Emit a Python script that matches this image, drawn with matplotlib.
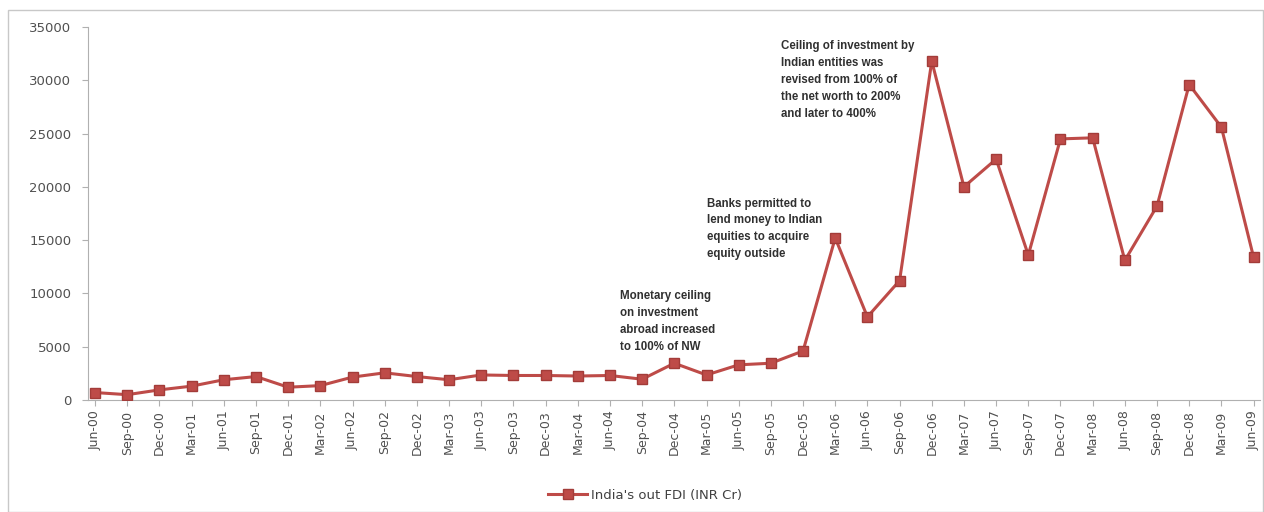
import matplotlib
matplotlib.use("Agg")
import matplotlib.pyplot as plt
from matplotlib.patches import Rectangle

categories = ["Jun-00", "Sep-00", "Dec-00", "Mar-01", "Jun-01", "Sep-01", "Dec-01", "Mar-02",
              "Jun-02", "Sep-02", "Dec-02", "Mar-03", "Jun-03", "Sep-03", "Dec-03", "Mar-04",
              "Jun-04", "Sep-04", "Dec-04", "Mar-05", "Jun-05", "Sep-05", "Dec-05", "Mar-06",
              "Jun-06", "Sep-06", "Dec-06", "Mar-07", "Jun-07", "Sep-07", "Dec-07", "Mar-08",
              "Jun-08", "Sep-08", "Dec-08", "Mar-09", "Jun-09"]
fdi_values = [700, 500, 950, 1300, 1900, 2200, 1200, 1350,
              2150, 2550, 2200, 1900, 2350, 2300, 2300, 2250,
              2300, 1950, 3450, 2350, 3300, 3450, 4600, 15200,
              7800, 11200, 31800, 20000, 22600, 13600, 24500, 24600,
              13100, 18200, 29600, 25600, 13400]
yticks = [0, 5000, 10000, 15000, 20000, 25000, 30000, 35000]
series_name = "India's out FDI (INR Cr)"
notes = [
    (16.3, 10300, "Monetary ceiling\non investment\nabroad increased\nto 100% of NW"),
    (19.0, 19000, "Banks permitted to\nlend money to Indian\nequities to acquire\nequity outside"),
    (21.3, 33800, "Ceiling of investment by\nIndian entities was\nrevised from 100% of\nthe net worth to 200%\nand later to 400%"),
]

fig = plt.figure(figsize=(12.64, 5.12), dpi=100)
fig.patches.append(Rectangle((8/1264, 0), 1 - 8/1264 - 0.001, 1 - 10/512,
                             transform=fig.transFigure, fill=False,
                             edgecolor="#c8c8c8", linewidth=1))
ax = fig.add_axes([88/1264, 1 - 400/512, (1260 - 88)/1264, (400 - 27)/512])

x = list(range(len(categories)))
line, = ax.plot(x, fdi_values, color="#BE4B48", linewidth=2.2, marker="s",
                markersize=7.5, markerfacecolor="#BE4B48", markeredgecolor="#a33c39",
                label=series_name, zorder=3)

ax.set_xlim(-0.22, 36.2)
ax.set_ylim(0, 35000)
ax.set_yticks(yticks)
ax.set_yticklabels([str(v) for v in yticks], fontsize=9.5, color="#404040")
ax.set_xticks(x)
ax.set_xticklabels(categories, rotation=90, fontsize=9, color="#404040")

for s in ["top", "right"]:
    ax.spines[s].set_visible(False)
ax.spines["left"].set_color("#b0b0b0")
ax.spines["bottom"].set_color("#b0b0b0")
ax.tick_params(axis="both", colors="#b0b0b0", length=4, labelcolor="#505050")
ax.tick_params(axis="y", pad=8)

for nx, ny, txt in notes:
    ax.text(nx, ny, txt, fontsize=8.3, fontweight="bold", color="#303030",
            va="top", ha="left", linespacing=1.55, family="Liberation Sans")

fig.legend(handles=[line], labels=[series_name], loc="center",
           bbox_to_anchor=(645/1264, 1 - 495/512), frameon=False,
           fontsize=9.5, handlelength=3.0, handletextpad=0.3, labelcolor="#404040")

fig.savefig("out.png", dpi=100, facecolor="white")
